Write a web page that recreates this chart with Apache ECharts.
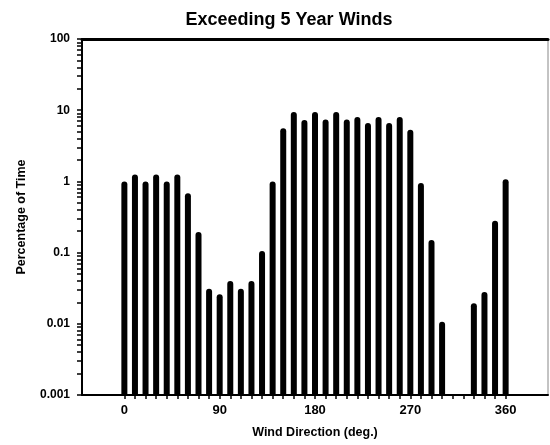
<!DOCTYPE html>
<html><head><meta charset="utf-8">
<script src="https://cdn.jsdelivr.net/npm/echarts@6/dist/echarts.min.js"></script>
<style>html,body{margin:0;padding:0;background:#fff}#c{width:550px;height:445px}</style>
</head><body><div id="c"></div>
<script>
const titleText = 'Exceeding 5 Year Winds';
const xName = 'Wind Direction (deg.)';
const yName = 'Percentage of Time';
const directions = [0,10,20,30,40,50,60,70,80,90,100,110,120,130,140,150,160,170,180,190,200,210,220,230,240,250,260,270,280,290,300,330,340,350,360];
const percentages = [1.0,1.25,1.0,1.25,1.0,1.25,0.68,0.195,0.031,0.026,0.04,0.031,0.04,0.105,1.0,5.6,9.4,7.3,9.4,7.4,9.4,7.4,8.0,6.6,8.0,6.6,8.0,5.3,0.95,0.15,0.0107,0.0195,0.028,0.28,1.07];
const xTickLabels = [0,90,180,270,360];
const xMinorTicks = [0,10,20,30,40,50,60,70,80,90,100,110,120,130,140,150,160,170,180,190,200,210,220,230,240,250,260,270,280,290,300,310,320,330,340,350,360];
const yTickLabels = [0.001,0.01,0.1,1,10,100];
const yMinorTicks = [0.001,0.002,0.003,0.004,0.005,0.006,0.007,0.008,0.009,0.01,0.02,0.03,0.04,0.05,0.06,0.07,0.08,0.09,0.1,0.2,0.3,0.4,0.5,0.6,0.7,0.8,0.9,1,2,3,4,5,6,7,8,9,10,20,30,40,50,60,70,80,90,100];

const font = '"Liberation Sans", Arial, sans-serif';
const chart = echarts.init(document.getElementById('c'), null, {renderer:'canvas'});
chart.setOption({
  animation:false,
  backgroundColor:'#fff',
  title:{text:titleText,left:284,textAlign:'center',top:6,textStyle:{fontFamily:font,fontSize:18,fontWeight:'bold',color:'#000'}},
  grid:{left:82,right:2,top:39,bottom:50,show:true,borderColor:'#888',borderWidth:1},
  xAxis:[{
    type:'value',min:-40,max:400,
    name:xName,nameLocation:'middle',nameGap:31,
    nameTextStyle:{fontFamily:font,fontSize:12.5,fontWeight:'bold',color:'#000'},
    axisLine:{show:true,onZero:false,lineStyle:{color:'#000',width:2}},
    axisTick:{show:true,customValues:xMinorTicks,length:4,lineStyle:{color:'#000',width:1.5}},
    axisLabel:{customValues:xTickLabels,margin:9,fontFamily:font,fontSize:13,fontWeight:'bold',color:'#000'},
    splitLine:{show:false}
  },{
    type:'value',position:'top',min:-40,max:400,
    axisLine:{show:true,onZero:false,lineStyle:{color:'#000',width:3}},
    axisTick:{show:false},axisLabel:{show:false},splitLine:{show:false}
  }],
  yAxis:{
    type:'log',logBase:10,min:0.001,max:100,startValue:0.001,
    name:yName,nameLocation:'middle',nameGap:54,nameRotate:90,
    nameTextStyle:{fontFamily:font,fontSize:12.5,fontWeight:'bold',color:'#000'},
    axisLine:{show:true,onZero:false,lineStyle:{color:'#000',width:2}},
    axisTick:{show:true,customValues:yMinorTicks,length:5,lineStyle:{color:'#000',width:1.5}},
    axisLabel:{customValues:yTickLabels,margin:12,fontFamily:font,fontSize:12,fontWeight:'bold',color:'#000',
      formatter:function(v){return String(v);}},
    splitLine:{show:false}
  },
  series:[{
    type:'bar',barWidth:6,
    itemStyle:{color:'#000',borderRadius:[3,3,0,0]},
    data:directions.map((d,i)=>[d,percentages[i]])
  }]
});
</script></body></html>
